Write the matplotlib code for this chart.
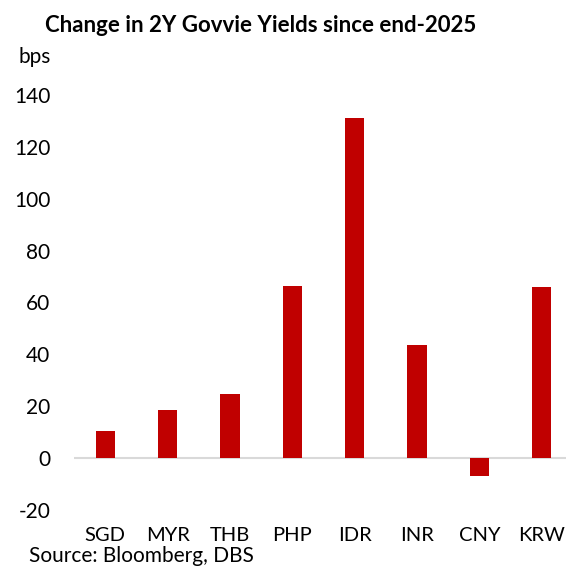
import matplotlib
matplotlib.use("Agg")
import matplotlib.pyplot as plt

# data (bps)
currencies = ["SGD", "MYR", "THB", "PHP", "IDR", "INR", "CNY", "KRW"]
change_bps = [10.5, 18.7, 24.9, 66.3, 131.2, 43.8, -7.0, 66.0]
yticks = [-20, 0, 20, 40, 60, 80, 100, 120, 140]

plt.rcParams['font.family'] = ['Lato', 'DejaVu Sans']

fig = plt.figure(figsize=(5.66, 5.67), dpi=100)
ax = fig.add_axes([74/566, 1-510/567, 499/566, (510-95)/567])

ax.bar(range(len(currencies)), change_bps, width=0.31, color='#C00000', zorder=2)
ax.axhline(0, color='#D9D9D9', lw=1.5, zorder=1)

ax.set_xlim(-0.5, len(currencies)-0.5)
ax.set_ylim(-20, 140)
ax.set_yticks(yticks)
ax.set_yticklabels([str(t) for t in yticks], fontsize=15)
ax.set_xticks(range(len(currencies)))
ax.set_xticklabels(currencies, fontsize=14.5)
ax.tick_params(axis='y', length=0, pad=17)
ax.tick_params(axis='x', length=0, pad=12)
for s in ax.spines.values():
    s.set_visible(False)

fig.text(261/566, 1-25/567, "Change in 2Y Govvie Yields since end-2025",
         ha='center', va='center', fontsize=16, fontweight='bold')
fig.text(18/566, 1-57/567, "bps", ha='left', va='center', fontsize=15)
fig.text(29/566, 1/567, "Source: Bloomberg, DBS", ha='left', va='bottom', fontsize=15)

fig.savefig("out.png", dpi=100)
